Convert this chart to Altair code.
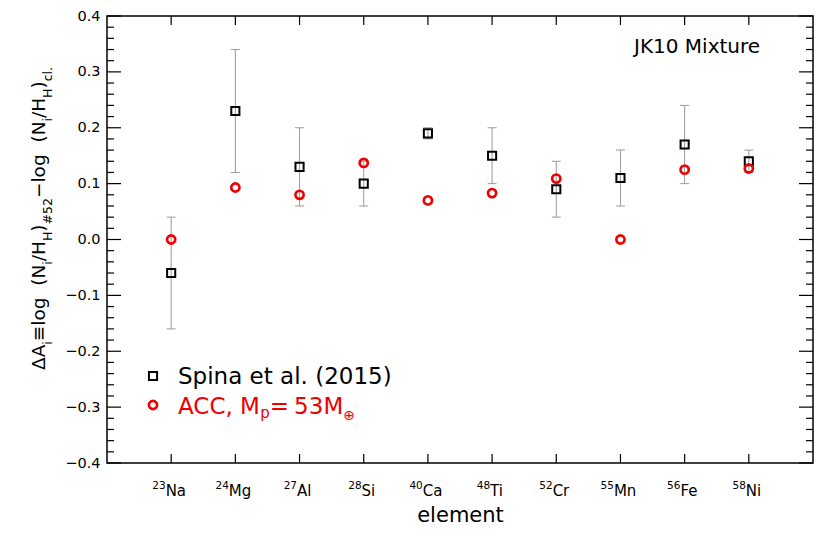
import altair as alt
import pandas as pd

# ---------------- data ----------------
mass_numbers = ["23", "24", "27", "28", "40", "48", "52", "55", "56", "58"]
symbols = ["Na", "Mg", "Al", "Si", "Ca", "Ti", "Cr", "Mn", "Fe", "Ni"]
element_idx = [1, 2, 3, 4, 5, 6, 7, 8, 9, 10]
spina = [-0.06, 0.23, 0.13, 0.10, 0.19, 0.15, 0.09, 0.11, 0.17, 0.14]
spina_err = [0.10, 0.11, 0.07, 0.04, 0.01, 0.05, 0.05, 0.05, 0.07, 0.02]
acc = [0.000, 0.093, 0.080, 0.137, 0.070, 0.083, 0.109, 0.000, 0.125, 0.127]

y_major = [-0.4, -0.3, -0.2, -0.1, 0.0, 0.1, 0.2, 0.3, 0.4]
y_minor = [round(-0.4 + 0.02 * k, 2) for k in range(41) if k % 5 != 0]

# ---------------- layout ----------------
W, H = 706, 447
PAD_L, PAD_T, PAD_R, PAD_B = 99, 8, 9, 63
OX, OY = 8 + PAD_L, 8 + PAD_T  # page position of plot origin
FONT = "DejaVu Sans"
RED = "#ee0000"
X_DOMAIN = [0, 11]
PX_PER_UNIT = W / (X_DOMAIN[1] - X_DOMAIN[0])

CW = {"Δ": .684, "A": .684, "i": .278, "≡": .838, "l": .278, "o": .612, "g": .635,
      " ": .318, "(": .39, "N": .748, "/": .337, "H": .752, ")": .39, "#": .838,
      "−": .838, "c": .55, ".": .318, "C": .698, ",": .318, "M": .863, "p": .635,
      "=": .838, "⊕": .838, "a": .613, "S": .635, "T": .611, "r": .411, "n": .634,
      "F": .575, "e": .615}


def width(s, size):
    return sum(CW.get(ch, .636 if ch.isdigit() else .6) for ch in s) * size


NUM_FS, SYM_FS = 10.5, 15
num_x, sym_x = [], []
for i, n, s in zip(element_idx, mass_numbers, symbols):
    total = width(n, NUM_FS) + width(s, SYM_FS)
    left = -total / 2 - 2
    num_x.append(i + left / PX_PER_UNIT)
    sym_x.append(i + (left + width(n, NUM_FS)) / PX_PER_UNIT)

df = pd.DataFrame({
    "idx": element_idx,
    "num": mass_numbers,
    "sym": symbols,
    "num_x": num_x,
    "sym_x": sym_x,
    "spina": spina,
    "lo": [s - e for s, e in zip(spina, spina_err)],
    "hi": [s + e for s, e in zip(spina, spina_err)],
    "acc": acc,
})

xscale = alt.Scale(domain=X_DOMAIN, nice=False, zero=False)
yscale = alt.Scale(domain=[-0.4, 0.4], nice=False, zero=False)

xaxis = alt.Axis(values=element_idx, labels=False, ticks=False, domain=False, grid=False,
                 title="element", titleFont=FONT, titleFontSize=21, titleFontWeight="normal",
                 titleColor="black", titleY=58, titleBaseline="alphabetic")
yaxis = alt.Axis(values=y_major, format=".1f", labelFont=FONT, labelFontSize=14.5,
                 labelColor="black", labelPadding=7, ticks=False, domain=False, grid=False,
                 title=None)


def X(field):
    return alt.X(field, scale=xscale, axis=xaxis)


def Y(field):
    return alt.Y(field, scale=yscale, axis=yaxis)


base = alt.Chart(df)
ERR = "#9a9a9a"

errbars = base.mark_rule(color=ERR, strokeWidth=1).encode(x=X("idx:Q"), y=Y("lo:Q"), y2="hi:Q")
cap_lo = base.mark_tick(orient="horizontal", size=9, thickness=1, color=ERR, opacity=1).encode(
    x=X("idx:Q"), y=Y("lo:Q"))
cap_hi = base.mark_tick(orient="horizontal", size=9, thickness=1, color=ERR, opacity=1).encode(
    x=X("idx:Q"), y=Y("hi:Q"))

squares = base.mark_point(shape="square", size=66, filled=False, color="black",
                          strokeWidth=2, opacity=1).encode(x=X("idx:Q"), y=Y("spina:Q"))
circles = base.mark_point(shape="circle", size=68, filled=False, color=RED,
                          strokeWidth=2.6, opacity=1).encode(x=X("idx:Q"), y=Y("acc:Q"))

# element labels (mass number as superscript + symbol)
lab_num = base.mark_text(font=FONT, fontSize=NUM_FS, color="black", align="left",
                         baseline="alphabetic").encode(
    x=X("num_x:Q"), y=alt.value(489 - OY), text="num:N")
lab_sym = base.mark_text(font=FONT, fontSize=SYM_FS, color="black", align="left",
                         baseline="alphabetic").encode(
    x=X("sym_x:Q"), y=alt.value(496 - OY), text="sym:N")


# ---------------- inward ticks ----------------
def yticks(vals, length):
    d = alt.Chart(pd.DataFrame({"v": vals}))
    left = d.mark_rule(color="black", strokeWidth=1.2).encode(
        y=Y("v:Q"), x=alt.value(0), x2=alt.value(length))
    right = d.mark_rule(color="black", strokeWidth=1.2).encode(
        y=Y("v:Q"), x=alt.value(W - length), x2=alt.value(W))
    return [left, right]


xt = alt.Chart(pd.DataFrame({"v": element_idx}))
xtick_top = xt.mark_rule(color="black", strokeWidth=1.2).encode(
    x=X("v:Q"), y=alt.value(0), y2=alt.value(9))
xtick_bot = xt.mark_rule(color="black", strokeWidth=1.2).encode(
    x=X("v:Q"), y=alt.value(H - 9), y2=alt.value(H))


# ---------------- text helpers ----------------
def txt(text, xp, yp, size, color="black", angle=0):
    return alt.Chart(pd.DataFrame({"t": [text]})).mark_text(
        font=FONT, fontSize=size, color=color, angle=angle, align="left",
        baseline="alphabetic").encode(
        x=alt.value(xp - OX), y=alt.value(yp - OY), text="t:N")


# y-axis title, built from pieces, reading bottom to top
MAIN, SUB = 18.5, 12.5
title_pieces = [("ΔA", "m"), ("i", "s"), ("≡log", "m"), ("  ", "m"), ("(N", "m"), ("i", "s"),
                ("/H", "m"), ("H", "s"), (")", "m"), ("#52", "s"), ("−log", "m"), ("  ", "m"),
                ("(N", "m"), ("i", "s"), ("/H", "m"), ("H", "s"), (")", "m"), ("cl.", "s")]
ytitle_layers = []
ypos = 370
for s, kind in title_pieces:
    size = MAIN if kind == "m" else SUB
    xb = 45 if kind == "m" else 52
    if s.strip():
        ytitle_layers.append(txt(s, xb, ypos, size, angle=270))
    ypos -= width(s, size)

# legend
LEG = 23
leg_sq = alt.Chart(pd.DataFrame({"t": ["s"]})).mark_point(
    shape="square", size=66, filled=False, color="black", strokeWidth=2, opacity=1).encode(
    x=alt.value(153 - OX), y=alt.value(376 - OY))
leg_ci = alt.Chart(pd.DataFrame({"t": ["c"]})).mark_point(
    shape="circle", size=68, filled=False, color=RED, strokeWidth=2.6, opacity=1).encode(
    x=alt.value(153 - OX), y=alt.value(405 - OY))
legend_layers = [leg_sq, leg_ci, txt("Spina et al. (2015)", 178, 384, LEG)]
xpos = 178
for s, size, dy, gap in [("ACC, M", LEG, 0, 0), ("p", 15, 4, 0), ("=", LEG, 0, 5),
                         ("53M", LEG, 0, 0), ("⊕", 14, 6, 0)]:
    legend_layers.append(txt(s, xpos, 414 + dy, size, color=RED))
    xpos += width(s, size) + gap

label_jk = txt("JK10  Mixture", 634, 53, 20)

chart = alt.layer(
    errbars, cap_lo, cap_hi,
    *yticks(y_major, 14), *yticks(y_minor, 7), xtick_top, xtick_bot,
    squares, circles, lab_num, lab_sym,
    *ytitle_layers, *legend_layers, label_jk,
).properties(
    width=W, height=H,
    padding={"left": PAD_L, "top": PAD_T, "right": PAD_R, "bottom": PAD_B},
    autosize=alt.AutoSizeParams(type="none"),
    background="white",
).configure_view(stroke="black", strokeWidth=1.5)

chart.save("out.html", embed_options={"renderer": "svg", "actions": False})
